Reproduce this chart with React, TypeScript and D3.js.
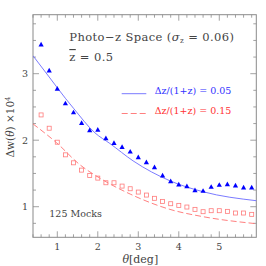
import React from "react";
import * as d3 from "d3";

const thetas = [0.6, 0.8, 1.0, 1.2, 1.4, 1.6, 1.8, 2.0, 2.2, 2.4, 2.6, 2.8, 3.0, 3.2, 3.4, 3.6, 3.8, 4.0, 4.2, 4.4, 4.6, 4.8, 5.0, 5.2, 5.4, 5.6, 5.8];
const blueMocks = [3.44, 3.05, 2.775, 2.555, 2.42, 2.26, 2.15, 2.16, 2.03, 1.96, 1.90, 1.83, 1.745, 1.67, 1.595, 1.47, 1.385, 1.335, 1.31, 1.25, 1.24, 1.30, 1.33, 1.34, 1.32, 1.29, 1.29];
const redMocks = [2.38, 2.18, 1.97, 1.78, 1.66, 1.55, 1.47, 1.43, 1.36, 1.36, 1.31, 1.27, 1.22, 1.175, 1.126, 1.08, 1.045, 1.02, 0.995, 0.96, 0.925, 0.94, 0.94, 0.93, 0.905, 0.905, 0.885];

const blueLineTheta = [0.4, 0.8, 1.2, 1.4, 1.93, 2.3, 2.87, 3.78, 4.6, 5.92];
const blueLineVal = [3.27, 2.95, 2.63, 2.48, 2.11, 1.95, 1.69, 1.39, 1.225, 1.09];
const redLineTheta = [0.4, 0.985, 1.56, 2.05, 2.8, 3.78, 4.6, 5.92];
const redLineVal = [2.245, 1.96, 1.63, 1.43, 1.19, 0.96, 0.85, 0.744];

const xTicks = [1, 2, 3, 4, 5];
const yTicks = [1, 2, 3];

const W = 266, H = 266;
const L = 33, R = 256.3, T = 14.7, B = 237.3;
const FONT = "DejaVu Serif";
const TEXT = "#444";

export default function App() {
  const x = d3.scaleLinear().domain([0.4, 5.914]).range([L, R]);
  const y = d3.scaleLinear().domain([0.54, 3.887]).range([B, T]);

  const line = d3.line<[number, number]>()
    .x(d => x(d[0])).y(d => y(d[1])).curve(d3.curveMonotoneX);
  const blueLine = line(blueLineTheta.map((t, i) => [t, blueLineVal[i]]));
  const redLine = line(redLineTheta.map((t, i) => [t, redLineVal[i]]));

  const xMinor = d3.range(0.4, 5.95, 0.2).map(v => +v.toFixed(2));
  const yMinor = d3.range(0.75, 3.9, 0.25);
  const axisColor = "#8a8a8a";

  const tri = (cx: number, cy: number) => {
    const s = 2.6;
    return `M${cx},${cy - s}L${cx + s},${cy + s * 0.8}L${cx - s},${cy + s * 0.8}Z`;
  };

  return (
    <svg width={W} height={H} style={{ position: "absolute", left: 0, top: 0, background: "#fff" }} fontFamily={FONT}>
      <rect x={0} y={0} width={W} height={H} fill="#fff" />
      <defs>
        <clipPath id="plot"><rect x={L} y={T} width={R - L} height={B - T} /></clipPath>
      </defs>
      {xMinor.map((v, i) => {
        const major = xTicks.some(t => Math.abs(t - v) < 1e-6);
        const len = major ? 6 : 3;
        return (
          <g key={"xm" + i} stroke={axisColor} strokeWidth={0.8}>
            <line x1={x(v)} x2={x(v)} y1={B} y2={B - len} />
            <line x1={x(v)} x2={x(v)} y1={T} y2={T + len} />
          </g>
        );
      })}
      {yMinor.map((v, i) => {
        const major = yTicks.some(t => Math.abs(t - v) < 1e-6);
        const len = major ? 6 : 3;
        return (
          <g key={"ym" + i} stroke={axisColor} strokeWidth={0.8}>
            <line x1={L} x2={L + len} y1={y(v)} y2={y(v)} />
            <line x1={R} x2={R - len} y1={y(v)} y2={y(v)} />
          </g>
        );
      })}
      <rect x={L} y={T} width={R - L} height={B - T} fill="none" stroke={axisColor} strokeWidth={1} />
      {xTicks.map(t => (
        <text key={"xt" + t} x={x(t)} y={250} fontSize={9.5} textAnchor="middle" fill={TEXT}>{t}</text>
      ))}
      {yTicks.map(t => (
        <text key={"yt" + t} x={25} y={y(t) + 3.5} fontSize={9.5} textAnchor="middle" fill={TEXT}>{t}</text>
      ))}
      <text x={x(3.05)} y={263} fontSize={11} textAnchor="middle" fill={TEXT}>
        <tspan fontStyle="italic">θ</tspan>[deg]
      </text>
      <text transform={`translate(14,127) rotate(-90)`} fontSize={10.5} textAnchor="middle" fill={TEXT}>
        Δw(<tspan fontStyle="italic">θ</tspan>) ×10<tspan fontSize={7} dy={-4}>4</tspan>
      </text>

      <g clipPath="url(#plot)">
        <path d={blueLine ?? ""} fill="none" stroke="#6b6bff" strokeWidth={0.9} />
        <path d={redLine ?? ""} fill="none" stroke="#ff7070" strokeWidth={0.9} strokeDasharray="6,3" />
        {thetas.map((t, i) => (
          <path key={"b" + i} d={tri(x(t), y(blueMocks[i]))} fill="#0000ff" />
        ))}
        {thetas.map((t, i) => (
          <rect key={"r" + i} x={x(t) - 2} y={y(redMocks[i]) - 2} width={4} height={4} fill="none" stroke="#ff7b7b" strokeWidth={0.8} />
        ))}
      </g>

      <text x={69.3} y={41} fontSize={11.5} fill={TEXT} letterSpacing={0.4}>
        Photo−z Space (<tspan fontStyle="italic">σ</tspan><tspan fontSize={7} dy={2}>z</tspan><tspan dy={-2}> = 0.06)</tspan>
      </text>
      <text x={69.3} y={61} fontSize={11.5} fill={TEXT} letterSpacing={0.4}>
        <tspan textDecoration="overline">z</tspan> = 0.5
      </text>

      <line x1={121.7} x2={146.3} y1={93.7} y2={93.7} stroke="#6b6bff" strokeWidth={0.9} />
      <text x={154.7} y={94} fontSize={9.5} fill="#3333ff">Δz/(1+z) = 0.05</text>
      <line x1={121.7} x2={146.3} y1={113.5} y2={113.5} stroke="#ff7070" strokeWidth={0.9} strokeDasharray="6,3" />
      <text x={154.7} y={114} fontSize={9.5} fill="#ff3333">Δz/(1+z) = 0.15</text>

      <text x={49.3} y={216.5} fontSize={9.5} fill={TEXT}>125 Mocks</text>
    </svg>
  );
}
